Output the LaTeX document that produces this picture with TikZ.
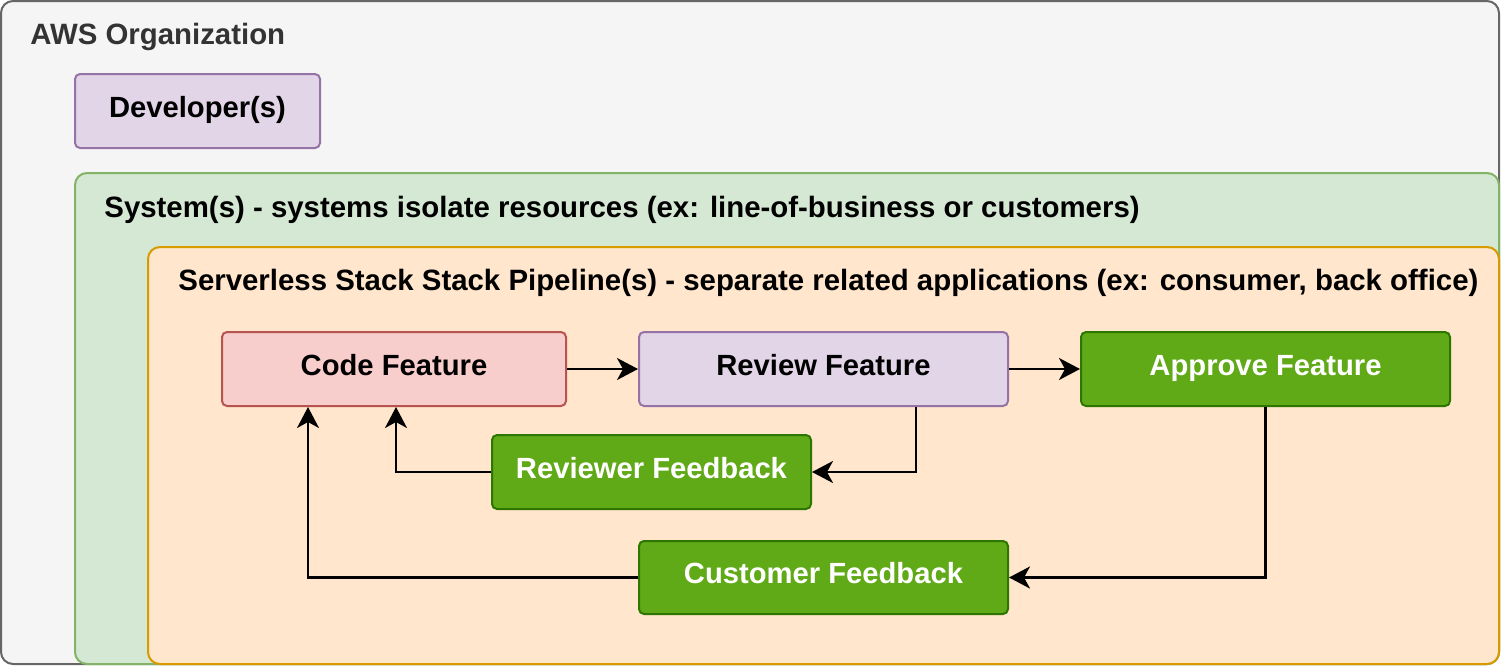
\documentclass[tikz,border=0pt]{standalone}
\usepackage{fontspec}
\setmainfont{Liberation Sans}
\usetikzlibrary{arrows.meta}

\definecolor{orgfill}{HTML}{F5F5F5}
\definecolor{orgline}{HTML}{666666}
\definecolor{orgtext}{HTML}{333333}
\definecolor{sysfill}{HTML}{D5E8D4}
\definecolor{sysline}{HTML}{82B366}
\definecolor{pipefill}{HTML}{FFE6CC}
\definecolor{pipeline}{HTML}{D79B00}
\definecolor{redfill}{HTML}{F8CECC}
\definecolor{redline}{HTML}{B85450}
\definecolor{purplefill}{HTML}{E1D5E7}
\definecolor{purpleline}{HTML}{9673A6}
\definecolor{greenfill}{HTML}{60A917}
\definecolor{greenline}{HTML}{2D7600}

\tikzset{
  layer/.style={draw, rounded corners=6pt, line width=1pt, inner sep=0pt},
  heading/.style={anchor=west, inner sep=0pt, font=\bfseries\fontsize{14.7}{17}\selectfont},
  feature/.style={draw, rounded corners=2.5pt, line width=1pt, minimum height=37pt,
    text height=1.45ex, text depth=0.25ex, font=\bfseries\fontsize{14.6}{17}\selectfont},
  flow/.style={draw, line width=1.2pt, -{Stealth[length=10.5pt, width=11pt, inset=3pt]}}
}

\begin{document}
\begin{tikzpicture}[x=0.5pt, y=-0.5pt]
  \useasboundingbox (0,0) rectangle (1501,666);

  % containers
  \node[layer, fill=orgfill, draw=orgline, minimum width=749pt, minimum height=331.5pt] (org) at (750,332.5) {};
  \node[heading, text=orgtext] (orgtitle) at (30,37) {AWS Organization};
  \node[feature, fill=purplefill, draw=purpleline, minimum width=122.5pt] (dev) at (197.5,111) {Developer(s)};
  \node[layer, fill=sysfill, draw=sysline, minimum width=712pt, minimum height=245.5pt] (system) at (787,418.5) {};
  \node[heading] (systitle) at (104,210) {System(s) - systems isolate resources (ex: line-of-business or customers)};
  \node[layer, fill=pipefill, draw=pipeline, minimum width=675.5pt, minimum height=208.5pt] (pipe) at (823.5,455.5) {};
  \node[heading] (pipetitle) at (178,283) {Serverless Stack Stack Pipeline(s) - separate related applications (ex: consumer, back office)};

  % features
  \node[feature, fill=redfill, draw=redline, minimum width=172pt] (code) at (394,369) {Code Feature};
  \node[feature, fill=purplefill, draw=purpleline, minimum width=184.5pt] (review) at (823.5,369) {Review Feature};
  \node[feature, fill=greenfill, draw=greenline, text=white, minimum width=184.5pt] (approve) at (1265.5,369) {Approve Feature};
  \node[feature, fill=greenfill, draw=greenline, text=white, minimum width=159.5pt] (reviewer) at (651.5,472) {Reviewer Feedback};
  \node[feature, fill=greenfill, draw=greenline, text=white, minimum width=184.5pt, minimum height=36.5pt] (customer) at (823.5,577.5) {Customer Feedback};

  % forward edges
  \draw[flow] (code) -- (review);
  \draw[flow] (review) -- (approve);

  % feedback edges
  \draw[flow] ([xshift=46.25pt]review.south) |- (reviewer.east);
  \draw[flow] (reviewer.west) -| ([xshift=1pt]code.south);
  \draw[flow] (approve.south) |- (customer.east);
  \draw[flow] (customer.west) -| ([xshift=-43pt]code.south);
\end{tikzpicture}
\end{document}
